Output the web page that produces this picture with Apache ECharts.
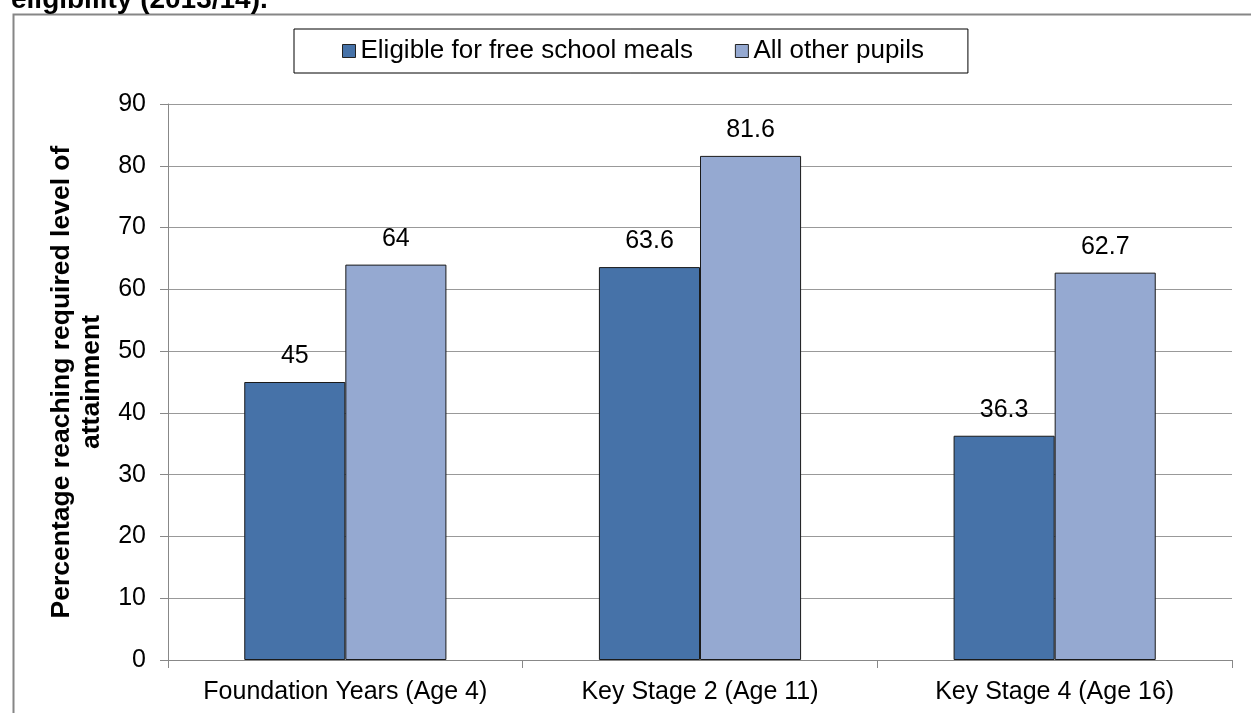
<!DOCTYPE html>
<html>
<head>
<meta charset="utf-8">
<script src="https://cdn.jsdelivr.net/npm/echarts@6/dist/echarts.min.js"></script>
<style>
html,body{margin:0;padding:0;background:#fff;}
#chart{width:1251px;height:713px;}
</style>
</head>
<body>
<div id="chart"></div>
<script>
var categories = ['Foundation Years (Age 4)', 'Key Stage 2 (Age 11)', 'Key Stage 4 (Age 16)'];
var fsmValues = [45, 63.6, 36.3];
var otherValues = [64, 81.6, 62.7];
var seriesNames = ['Eligible for free school meals', 'All other pupils'];
var yAxisTitle = 'Percentage reaching required level of\nattainment';
var cutTitle = 'eligibility (2013/14).';

var FONT = '"Liberation Sans", Arial, sans-serif';
var chart = echarts.init(document.getElementById('chart'));
chart.setOption({
  animation: false,
  backgroundColor: '#ffffff',
  textStyle: { fontFamily: FONT, color: '#000' },
  graphic: [
    { type: 'rect', left: 11, top: 12, shape: { width: 1300, height: 800 },
      style: { fill: 'none', stroke: '#868686', lineWidth: 2 }, silent: true, z: -1 },
    { type: 'text', x: 11, y: 0,
      style: { text: cutTitle, font: 'bold 28px ' + FONT, fill: '#000', verticalAlign: 'middle', align: 'left' } }
  ],
  legend: {
    left: 294, top: 29,
    padding: [9, 44, 9, 48],
    itemGap: 42,
    itemWidth: 13, itemHeight: 13,
    borderColor: '#000', borderWidth: 1,
    icon: 'rect',
    itemStyle: { borderColor: '#222', borderWidth: 1 },
    textStyle: { fontSize: 26, fontFamily: FONT, color: '#000' },
    data: seriesNames
  },
  grid: { left: 168, right: 19, top: 104, bottom: 53, containLabel: false },
  xAxis: {
    type: 'category',
    data: categories,
    boundaryGap: true,
    axisLine: { lineStyle: { color: '#888', width: 1 } },
    axisTick: { show: true, length: 8, interval: 0, alignWithLabel: false, lineStyle: { color: '#888' } },
    axisLabel: { fontSize: 25, color: '#000', margin: 20, interval: 0, fontFamily: FONT }
  },
  yAxis: {
    type: 'value',
    min: 0, max: 90, interval: 10,
    name: yAxisTitle,
    nameLocation: 'middle',
    nameGap: 61,
    nameTextStyle: { fontSize: 26.5, fontWeight: 'bold', color: '#000', lineHeight: 30, fontFamily: FONT },
    axisLine: { show: true, lineStyle: { color: '#888' } },
    axisTick: { show: true, length: 8, inside: false, lineStyle: { color: '#888' } },
    axisLabel: { fontSize: 25, color: '#000', margin: 22, fontFamily: FONT },
    splitLine: { show: true, lineStyle: { color: '#999', width: 1 } }
  },
  series: [
    { name: seriesNames[0], type: 'bar', data: fsmValues,
      barGap: '0%', barCategoryGap: '43%',
      itemStyle: { color: '#4672A8', borderColor: '#1a1a1a', borderWidth: 1 },
      label: { show: true, position: 'top', distance: 13, fontSize: 25, color: '#000', fontFamily: FONT } },
    { name: seriesNames[1], type: 'bar', data: otherValues,
      barGap: '0%', barCategoryGap: '43%',
      itemStyle: { color: '#95A9D1', borderColor: '#1a1a1a', borderWidth: 1 },
      label: { show: true, position: 'top', distance: 13, fontSize: 25, color: '#000', fontFamily: FONT } }
  ]
});
</script>
</body>
</html>
